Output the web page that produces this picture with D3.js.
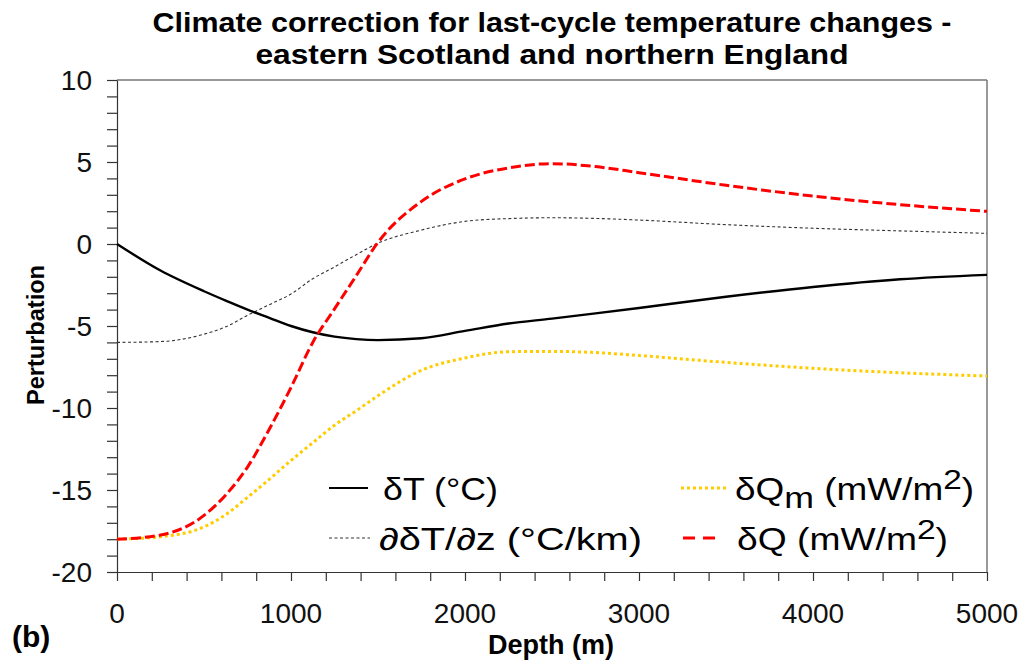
<!DOCTYPE html>
<html>
<head>
<meta charset="utf-8">
<script src="https://cdn.jsdelivr.net/npm/d3@7"></script>
<style>
  html, body { margin: 0; padding: 0; background: #fff; }
  svg { display: block; font-family: "Liberation Sans", Arial, sans-serif; }
</style>
</head>
<body>
<svg id="chart" width="1020" height="664"></svg>
<script>
// Depth samples (m) shared by every profile
const depth = [0, 250, 500, 625, 750, 875, 1000, 1125, 1250, 1375, 1500, 1750, 2000, 2250, 2500, 2750, 3000, 3500, 4000, 4500, 5000];

// Temperature perturbation dT (°C)
const dT = [0, -1.62, -2.88, -3.45, -4.0, -4.5, -5.0, -5.38, -5.65, -5.8, -5.86, -5.75, -5.3, -4.85, -4.55, -4.23, -3.9, -3.22, -2.62, -2.15, -1.88];
// Gradient perturbation d(dT)/dz (°C/km)
const dTdz = [-6.0, -5.95, -5.5, -5.05, -4.35, -3.7, -3.05, -2.12, -1.4, -0.65, 0.05, 0.85, 1.38, 1.55, 1.6, 1.56, 1.46, 1.18, 0.96, 0.8, 0.65];
// Heat-flow perturbation dQm (mW/m2)
const dQm = [-18.0, -17.85, -17.25, -16.5, -15.45, -14.35, -13.2, -12.12, -11.05, -10.17, -9.25, -7.7, -6.95, -6.57, -6.55, -6.62, -6.8, -7.22, -7.58, -7.85, -8.05];
// Heat-flow perturbation dQ (mW/m2)
const dQ = [-18.0, -17.75, -16.55, -15.3, -13.6, -11.3, -8.75, -6.0, -3.96, -1.93, 0.1, 2.6, 3.97, 4.64, 4.9, 4.72, 4.35, 3.58, 2.92, 2.4, 1.99];

const xTicks = [0, 1000, 2000, 3000, 4000, 5000];
const yTicks = [10, 5, 0, -5, -10, -15, -20];

const titleLines = ["Climate correction for last-cycle temperature changes -", "eastern Scotland and northern England"];

const svg = d3.select("#chart");
const plot = { left: 117, right: 987, top: 80, bottom: 572 };

const x = d3.scaleLinear().domain([0, 5000]).range([plot.left, plot.right]);
const y = d3.scaleLinear().domain([-20, 10]).range([plot.bottom, plot.top]);

// squeeze/stretch text to a given width
function fitWidth(sel, w) {
  sel.attr("textLength", w).attr("lengthAdjust", "spacingAndGlyphs");
}

// Title
svg.append("text").attr("x", 552).attr("y", 32).attr("text-anchor", "middle")
  .attr("font-size", 27).attr("font-weight", "bold").text(titleLines[0])
  .call(fitWidth, 799);
svg.append("text").attr("x", 552).attr("y", 64).attr("text-anchor", "middle")
  .attr("font-size", 27).attr("font-weight", "bold").text(titleLines[1])
  .call(fitWidth, 593);

// Frame around plot area
svg.append("line").attr("x1", plot.left).attr("x2", plot.right).attr("y1", plot.top).attr("y2", plot.top)
  .attr("stroke", "#333").attr("stroke-width", 1.2);
svg.append("line").attr("x1", plot.right).attr("x2", plot.right).attr("y1", plot.top).attr("y2", plot.bottom)
  .attr("stroke", "#777").attr("stroke-width", 1.5);

// X axis: minor ticks every 200 m
const xAxis = svg.append("g").attr("transform", `translate(0,${plot.bottom})`)
  .call(d3.axisBottom(x).tickValues(d3.range(0, 5001, 200)).tickSize(9).tickSizeOuter(0).tickFormat(""));
xAxis.selectAll("path, line").attr("stroke", "#333").attr("stroke-width", 1.2);
svg.append("g").selectAll("text").data(xTicks).join("text")
  .attr("x", d => x(d)).attr("y", 623).attr("text-anchor", "middle")
  .attr("font-size", 28).attr("fill", "#111").text(d => d);

// Y axis: minor ticks every 1 unit
const yAxis = svg.append("g").attr("transform", `translate(${plot.left},0)`)
  .call(d3.axisLeft(y).tickValues(d3.range(-20, 11, 1)).tickSize(10).tickSizeOuter(0).tickFormat(""));
yAxis.selectAll("path, line").attr("stroke", "#333").attr("stroke-width", 1.2);
svg.append("g").selectAll("text").data(yTicks).join("text")
  .attr("x", 92).attr("y", d => y(d) + 10).attr("text-anchor", "end")
  .attr("font-size", 28).attr("fill", "#111").text(d => d);

// Axis titles
svg.append("text").attr("x", 551).attr("y", 654).attr("text-anchor", "middle")
  .attr("font-size", 27).attr("font-weight", "bold").text("Depth (m)").call(fitWidth, 126);
svg.append("text").attr("transform", "translate(44,335) rotate(-90)").attr("text-anchor", "middle")
  .attr("font-size", 24).attr("font-weight", "bold").text("Perturbation").call(fitWidth, 140);
svg.append("text").attr("x", 12).attr("y", 647)
  .attr("font-size", 30).attr("font-weight", "bold").text("(b)");

// Profiles
const series = [
  { values: dQm, color: "#ffcc00", width: 3, dash: "3,3" },
  { values: dTdz, color: "#333", width: 1.1, dash: "3,2.5" },
  { values: dT, color: "#000", width: 2.4, dash: null },
  { values: dQ, color: "#ff0000", width: 3, dash: "10,4" }
];
const line = d3.line().x(d => x(d[0])).y(d => y(d[1])).curve(d3.curveMonotoneX);
svg.append("g").selectAll("path").data(series).join("path")
  .attr("d", s => line(depth.map((dd, i) => [dd, s.values[i]])))
  .attr("fill", "none").attr("stroke", s => s.color).attr("stroke-width", s => s.width)
  .attr("stroke-dasharray", s => s.dash);

// Legend
const lg = svg.append("g");
function legendLine(x1, x2, yy, color, width, dash) {
  lg.append("line").attr("x1", x1).attr("x2", x2).attr("y1", yy).attr("y2", yy)
    .attr("stroke", color).attr("stroke-width", width).attr("stroke-dasharray", dash);
}
legendLine(329, 368, 488, "#000", 2.2, null);
legendLine(329, 370, 538, "#333", 1.1, "3,2.5");
legendLine(681, 726, 488, "#ffcc00", 3, "3,3");
legendLine(683, 722, 538, "#ff0000", 3, "12,8");

lg.append("text").attr("x", 383).attr("y", 500).attr("font-size", 31).text("δT (°C)").call(fitWidth, 115);
lg.append("text").attr("x", 379).attr("y", 550).attr("font-size", 31).text("∂δT/∂z (°C/km)").call(fitWidth, 263);

const t3 = lg.append("text").attr("x", 735).attr("y", 500).attr("font-size", 31);
t3.append("tspan").text("δQ");
t3.append("tspan").attr("dy", 8).attr("font-size", 30).text("m");
t3.append("tspan").attr("dy", -8).text(" (mW/m");
t3.append("tspan").attr("dy", -11).attr("font-size", 28).text("2");
t3.append("tspan").attr("dy", 11).text(")");
t3.call(fitWidth, 239);

const t4 = lg.append("text").attr("x", 737).attr("y", 550).attr("font-size", 31);
t4.append("tspan").text("δQ (mW/m");
t4.append("tspan").attr("dy", -11).attr("font-size", 28).text("2");
t4.append("tspan").attr("dy", 11).text(")");
t4.call(fitWidth, 211);
</script>
</body>
</html>
